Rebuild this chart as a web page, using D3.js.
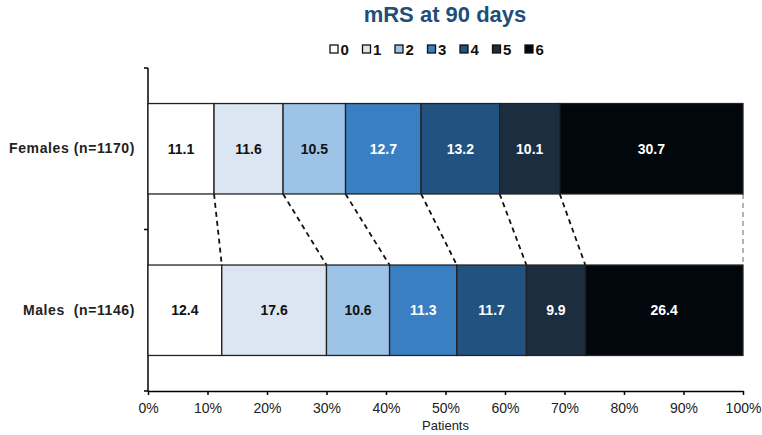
<!DOCTYPE html>
<html>
<head>
<meta charset="utf-8">
<script src="https://cdn.jsdelivr.net/npm/d3@7"></script>
<style>
    body { margin: 0; background: #fff; font-family: "Liberation Sans", Arial, sans-serif; }
    .axis path, .axis line { stroke: #000; stroke-width: 1.5; }
    .axis text { font-family: "Liberation Sans", Arial, sans-serif; fill: #222; }
</style>
</head>
<body>
<script>
// mRS at 90 days, stacked percent bars by sex

const groups = ['Females (n=1170)', 'Males\u00a0\u00a0(n=1146)'];
const scores = ['0', '1', '2', '3', '4', '5', '6'];
const females = [11.1, 11.6, 10.5, 12.7, 13.2, 10.1, 30.7];
const males = [12.4, 17.6, 10.6, 11.3, 11.7, 9.9, 26.4];
const xTicks = [0, 10, 20, 30, 40, 50, 60, 70, 80, 90, 100];
const colors = ['#ffffff', '#dce6f2', '#9dc3e6', '#3a7fc1', '#22527f', '#1b2d3f', '#02060d'];
const labelColors = ['#111', '#111', '#111', '#fff', '#fff', '#fff', '#fff'];

const width = 762, height = 435;
const margin = { top: 68, bottom: 44, left: 148, right: 19 };

let svg = d3.select('body').append('svg')
    .attr('width', width)
    .attr('height', height);

let xScale = d3.scaleLinear()
    .domain([0, 100])
    .range([margin.left, width - margin.right]);

let yScale = d3.scaleBand()
    .domain(groups)
    .range([margin.top, height - margin.bottom])
    .paddingInner(0.44)
    .paddingOuter(0.22);

// stack the rows
let rows = [females, males].map((vals, gi) => {
    let acc = 0;
    return vals.map((v, i) => {
        let r = { group: groups[gi], score: i, value: v, x0: acc, x1: acc + v };
        acc += v;
        return r;
    });
});

// title
svg.append('text')
    .attr('x', 445)
    .attr('y', 22)
    .attr('text-anchor', 'middle')
    .attr('font-size', 22)
    .attr('font-weight', 'bold')
    .attr('fill', '#1f4e79')
    .text('mRS at 90 days');

// legend
let legend = svg.append('g')
    .selectAll('g')
    .data(scores)
    .enter()
    .append('g')
    .attr('transform', (d, i) => 'translate(' + (330 + i * 32.5) + ',45)');

legend.append('rect')
    .attr('width', 8)
    .attr('height', 8)
    .attr('fill', (d, i) => colors[i])
    .attr('stroke', '#111')
    .attr('stroke-width', 1.3);

legend.append('text')
    .attr('x', 10.5)
    .attr('y', 9.5)
    .attr('font-size', 15)
    .attr('font-weight', 'bold')
    .attr('fill', '#111')
    .text(d => d);

// axes
let xAxis = svg.append('g')
    .attr('class', 'axis')
    .attr('transform', 'translate(0,' + (height - margin.bottom) + ')')
    .call(d3.axisBottom(xScale).tickValues(xTicks).tickSize(4).tickSizeOuter(0).tickFormat(d => d + '%'));
xAxis.selectAll('text').attr('font-size', 14).attr('dy', '1.05em').attr('fill', '#333');

let yAxis = svg.append('g')
    .attr('class', 'axis')
    .attr('transform', 'translate(' + margin.left + ',0)')
    .call(d3.axisLeft(yScale).tickSize(0).tickPadding(13));
yAxis.select('.domain').remove();
yAxis.selectAll('text')
    .attr('font-size', 14)
    .attr('font-weight', 'bold')
    .attr('letter-spacing', '0.6px')
    .attr('fill', '#111');

// y axis line with band boundary ticks
let bounds = [margin.top, (yScale(groups[0]) + yScale.bandwidth() + yScale(groups[1])) / 2, height - margin.bottom];
svg.append('line')
    .attr('x1', margin.left).attr('x2', margin.left)
    .attr('y1', margin.top).attr('y2', height - margin.bottom)
    .attr('stroke', '#000').attr('stroke-width', 1.5);
svg.append('g')
    .selectAll('line')
    .data(bounds)
    .enter()
    .append('line')
    .attr('x1', margin.left - 4).attr('x2', margin.left)
    .attr('y1', d => d).attr('y2', d => d)
    .attr('stroke', '#000').attr('stroke-width', 1.5);

// dashed connectors between the bars
let fBottom = yScale(groups[0]) + yScale.bandwidth();
let mTop = yScale(groups[1]);
svg.append('g')
    .selectAll('line')
    .data(rows[0].map((d, i) => ({ f: d.x1, m: rows[1][i].x1, last: i === rows[0].length - 1 })))
    .enter()
    .append('line')
    .attr('x1', d => d.last ? xScale(100) : xScale(d.f))
    .attr('x2', d => d.last ? xScale(100) : xScale(d.m))
    .attr('y1', fBottom)
    .attr('y2', mTop)
    .attr('stroke', d => d.last ? '#666' : '#111')
    .attr('stroke-width', d => d.last ? 1 : 1.8)
    .attr('stroke-dasharray', '5,4');

// bars
rows.forEach(row => {
    let g = svg.append('g');
    g.selectAll('rect')
        .data(row)
        .enter()
        .append('rect')
        .attr('x', d => xScale(d.x0))
        .attr('y', d => yScale(d.group))
        .attr('width', d => d.score === 6 ? xScale(100) - xScale(d.x0) : xScale(d.x1) - xScale(d.x0))
        .attr('height', yScale.bandwidth())
        .attr('fill', d => colors[d.score])
        .attr('stroke', '#222')
        .attr('stroke-width', 1.3);

    g.selectAll('text')
        .data(row)
        .enter()
        .append('text')
        .attr('x', d => xScale((d.x0 + (d.score === 6 ? 100 : d.x1)) / 2))
        .attr('y', d => yScale(d.group) + yScale.bandwidth() / 2)
        .attr('dy', '0.35em')
        .attr('text-anchor', 'middle')
        .attr('font-size', 14)
        .attr('font-weight', 'bold')
        .attr('fill', d => labelColors[d.score])
        .text(d => d.value.toFixed(1));
});

// axis title
svg.append('text')
    .attr('x', xScale(50))
    .attr('y', 430)
    .attr('text-anchor', 'middle')
    .attr('font-size', 13)
    .attr('fill', '#222')
    .text('Patients');
</script>
</body>
</html>
